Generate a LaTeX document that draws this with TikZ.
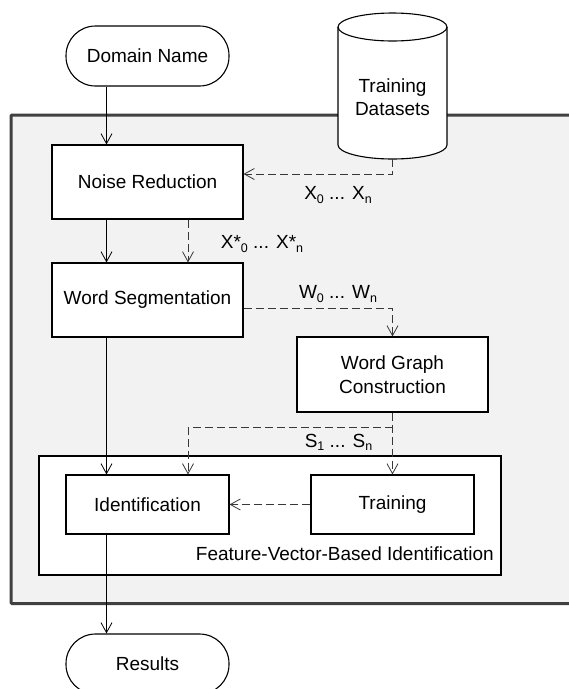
\documentclass[tikz,border=0pt]{standalone}
\usepackage{fontspec}
\setmainfont{Liberation Sans}
\usetikzlibrary{arrows.meta}
\newcommand\sbs[1]{\raisebox{-0.16em}{\fontsize{12.5}{12.5}\selectfont #1}}
\begin{document}
\begin{tikzpicture}[x=1pt,y=-1pt,
 font=\fontsize{19}{23.5}\selectfont,
 box/.style={draw=black, line width=1.1pt, fill=white, align=center, inner sep=0pt},
 term/.style={box, rounded corners=29.5pt},
 arr/.style={line width=0.8pt, -{Straight Barb[length=10pt,width=11pt,line width=0.8pt]}},
 darr/.style={arr, draw=black!78, dash pattern=on 8pt off 4pt},
 lbl/.style={inner sep=0pt}]
\useasboundingbox (0,0) rectangle (569,689);
\clip (0,0) rectangle (569,689);
% main grey area
\draw[line width=3pt, draw=black!75, fill=black!5, rounded corners=1pt] (11,115) rectangle (640,603.5);
% dataset cylinder
\filldraw[fill=white, line width=1.1pt] (338,27) -- (338,145)
  arc[start angle=180,end angle=0,x radius=54.5,y radius=14] -- (447,27)
  arc[start angle=0,end angle=-180,x radius=54.5,y radius=14] -- cycle;
\draw[line width=1.1pt] (338,27) arc[start angle=180,end angle=0,x radius=54.5,y radius=14];
\node[lbl, align=center] (data) at (392.5,97) {Training\\Datasets};
\coordinate (datab) at (392.5,159);
% nodes
\node[term, minimum width=163pt, minimum height=60pt] (dom) at (147.5,56) {Domain Name};
\node[box, minimum width=191pt, minimum height=74pt] (noise) at (147.5,182) {Noise Reduction};
\node[box, minimum width=191pt, minimum height=74pt] (seg) at (147.5,300) {Word Segmentation};
\node[box, minimum width=191pt, minimum height=75pt] (wgc) at (392.5,374.5) {Word Graph\\Construction};
\node[box, minimum width=462pt, minimum height=119pt] (fvb) at (270,515.5) {};
\node[lbl, anchor=east] (fvbl) at (494,554) {Feature-Vector-Based Identification};
\node[box, minimum width=163pt, minimum height=59pt] (ident) at (147.5,504.5) {Identification};
\node[box, minimum width=163pt, minimum height=59pt] (train) at (392.5,504.5) {Training};
\node[term, minimum width=163pt, minimum height=60pt] (res) at (147.5,664) {Results};
% labels
\node[lbl] (lx) at (338,195) {X\sbs{0} ... X\sbs{n}};
\node[lbl] (lxs) at (262,244) {X*\sbs{0} ... X*\sbs{n}};
\node[lbl] (lw) at (338,294) {W\sbs{0} ... W\sbs{n}};
\node[lbl] (ls) at (338.5,442) {S\sbs{1} ... S\sbs{n}};
% helper coordinates
\coordinate (cl) at (106.5,0);
\coordinate (cd) at (188,0);
\coordinate (y1) at (0,174);
\coordinate (y2) at (0,308);
\coordinate (y3) at (0,427);
% connectors
\draw[arr] (dom.south -| cl) -- (noise.north -| cl);
\draw[arr] (noise.south -| cl) -- (seg.north -| cl);
\draw[darr] (noise.south -| cd) -- (seg.north -| cd);
\draw[darr] (datab) |- (noise.east |- y1);
\draw[darr] (seg.east |- y2) -| (wgc.north);
\draw[darr] (wgc.south) -- (train.north);
\draw[darr] (wgc.south |- y3) -| (ident.north -| cd);
\draw[darr] (train.west) -- (ident.east);
\draw[arr] (seg.south -| cl) -- (ident.north -| cl);
\draw[arr] (ident.south -| cl) -- (res.north -| cl);
\end{tikzpicture}
\end{document}
